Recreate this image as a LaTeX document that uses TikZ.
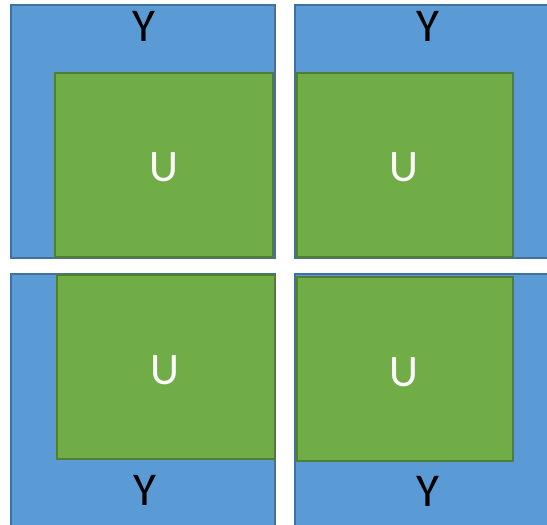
\documentclass[tikz,border=0pt]{standalone}
\usepackage{fontspec}
\setmainfont{Carlito}
\usetikzlibrary{positioning}
\definecolor{yfill}{HTML}{5B9BD5}
\definecolor{ydraw}{HTML}{41719C}
\definecolor{ufill}{HTML}{70AD47}
\definecolor{udraw}{HTML}{507E32}
\begin{document}
\begin{tikzpicture}[x=1pt, y=-1pt, every node/.style={inner sep=0pt, outer sep=0pt},
                    ybox/.style={draw=ydraw, fill=yfill, line width=1.5pt, anchor=north west},
                    ubox/.style={draw=udraw, fill=ufill, line width=1.5pt, anchor=north west},
                    ytext/.style={font=\fontsize{47}{47}\selectfont, text=black},
                    utext/.style={font=\fontsize{45}{45}\selectfont, text=white}]
  \clip (0,0) rectangle (547,525);
  % outer sets Y
  \node[ybox, minimum width=264pt, minimum height=253pt] (ytl) at (11,5)   {};
  \node[ybox, minimum width=265pt, minimum height=253pt] (ytr) at (295,5)  {};
  \node[ybox, minimum width=264pt, minimum height=266pt] (ybl) at (11,274) {};
  \node[ybox, minimum width=265pt, minimum height=266pt] (ybr) at (295,274) {};
  % inner sets U
  \node[ubox, minimum width=218pt, minimum height=184pt] (utl) at (55,73)   {};
  \node[ubox, minimum width=216pt, minimum height=184pt] (utr) at (297,73)  {};
  \node[ubox, minimum width=218pt, minimum height=184pt] (ubl) at (57,275)  {};
  \node[ubox, minimum width=216pt, minimum height=184pt] (ubr) at (297,277) {};
  % labels
  \node[ytext] (ltl) at (144,26)  {Y};
  \node[ytext] (ltr) at (428,26)  {Y};
  \node[ytext] (lbl) at (145,490) {Y};
  \node[ytext] (lbr) at (428,491) {Y};
  \node[utext] (mtl) at (164,167) {U};
  \node[utext] (mtr) at (404,167) {U};
  \node[utext] (mbl) at (165,370) {U};
  \node[utext] (mbr) at (404,372) {U};
\end{tikzpicture}
\end{document}
